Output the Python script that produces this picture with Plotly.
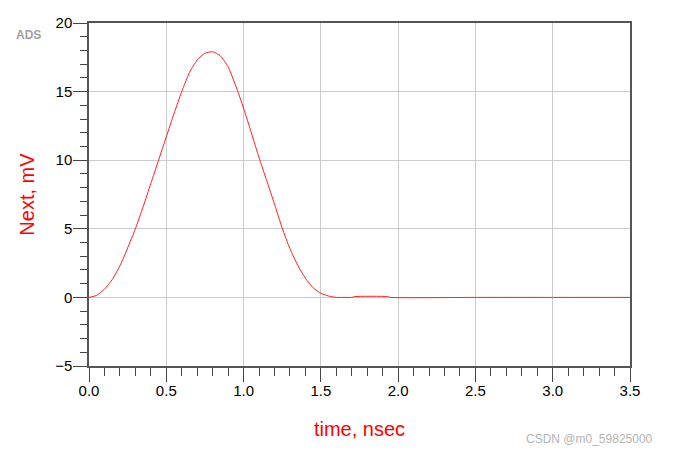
import plotly.graph_objects as go

time_ns = [0.00, 0.05, 0.10, 0.15, 0.20, 0.25, 0.30, 0.35, 0.40, 0.45, 0.50,
           0.55, 0.60, 0.65, 0.70, 0.75, 0.80, 0.85, 0.90, 0.95, 1.00, 1.05,
           1.10, 1.15, 1.20, 1.25, 1.30, 1.35, 1.40, 1.45, 1.50, 1.55, 1.60,
           1.65, 1.70, 1.72, 1.93, 1.95, 2.50, 3.00, 3.50]
next_mv = [0.0, 0.15, 0.6, 1.3, 2.3, 3.6, 5.0, 6.6, 8.3, 10.0, 11.7,
           13.4, 15.0, 16.4, 17.3, 17.8, 17.9, 17.6, 16.8, 15.4, 13.8, 12.0,
           10.2, 8.5, 6.8, 5.05, 3.55, 2.35, 1.4, 0.7, 0.3, 0.1, 0.0,
           0.0, 0.0, 0.06, 0.06, 0.0, 0.0, 0.0, 0.0]

x_ticks = [0.0, 0.5, 1.0, 1.5, 2.0, 2.5, 3.0, 3.5]
y_ticks = [-5, 0, 5, 10, 15, 20]

# page offset of 8px (body margin) compensated
OFF = 8
W, H = 673 - OFF, 453 - OFF
PL, PR, PT, PB = 89, 630, 23, 366  # plot area in page pixels


def px_to_paper(x, y):
    return (x - PL) / (PR - PL), (PB - y) / (PB - PT)


fig = go.Figure()
fig.add_trace(go.Scatter(x=time_ns, y=next_mv, mode="lines",
                         line=dict(color="#ff2020", width=1, shape="spline", smoothing=0.6),
                         showlegend=False))

axis_common = dict(
    showline=True, linecolor="#555555", linewidth=1.5, mirror=True,
    showgrid=True, gridcolor="#cccccc", gridwidth=1, zeroline=False,
    ticks="outside", ticklen=14, tickcolor="#444444", tickwidth=1,
    automargin=False,
    tickfont=dict(family="Liberation Sans, Arial", size=15, color="#000000"),
)

ax, ay = px_to_paper(14, 35)
wx, wy = px_to_paper(655, 439)

fig.update_layout(
    width=W, height=H,
    margin=dict(l=PL - OFF, r=W - (PR - OFF), t=PT - OFF, b=H - (PB - OFF)),
    paper_bgcolor="white", plot_bgcolor="white",
    xaxis=dict(range=[0, 3.5], tickvals=x_ticks, ticktext=[f"{v:.1f}" for v in x_ticks],
               minor=dict(dtick=0.1, tick0=0, ticks="outside", ticklen=8,
                          tickcolor="#444444", showgrid=False),
               ticklabelstandoff=-4,
               title=dict(text="time, nsec", standoff=24,
                          font=dict(family="Liberation Sans, Arial", size=20, color="#ff0000")),
               **axis_common),
    yaxis=dict(range=[-5, 20], tickvals=y_ticks,
               minor=dict(dtick=1, tick0=0, ticks="outside", ticklen=7,
                          tickcolor="#444444", showgrid=False),
               ticklabelstandoff=-2,
               title=dict(text="Next, mV", standoff=15,
                          font=dict(family="Liberation Sans, Arial", size=20, color="#ff0000")),
               **axis_common),
    annotations=[
        dict(text="<b>ADS</b>", x=ax, y=ay, xref="paper", yref="paper", showarrow=False,
             font=dict(family="Liberation Sans, Arial", size=12, color="#a0a0a0"),
             xanchor="left", yanchor="middle"),
        dict(text="CSDN @m0_59825000", x=wx, y=wy, xref="paper", yref="paper", showarrow=False,
             font=dict(family="Liberation Sans, Arial", size=12, color="#b4b4b4"),
             xanchor="right", yanchor="middle"),
    ],
)

fig.write_html("out.html")
